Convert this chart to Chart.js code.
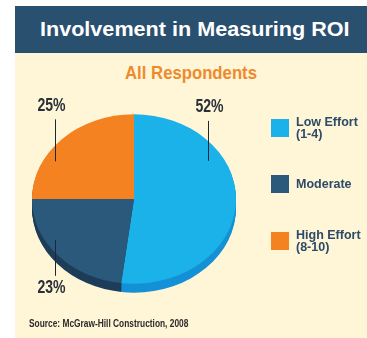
<!DOCTYPE html>
<html lang="en">
<head>
<meta charset="UTF-8">
<title>Involvement in Measuring ROI</title>
<script src="https://cdn.jsdelivr.net/npm/chart.js@4.4.0/dist/chart.umd.min.js"></script>
<style>
    * {
        margin: 0;
        padding: 0;
        box-sizing: border-box;
    }

    body {
        width: 367px;
        height: 338px;
        overflow: hidden;
        position: relative;
        background: #fff;
        font-family: "Liberation Sans", Arial, sans-serif;
    }

    .card {
        position: absolute;
        left: 15px;
        top: 6px;
        right: 0;
        bottom: 0;
        background: #fff6d8;
    }

    .header {
        position: absolute;
        left: 15px;
        top: 6px;
        right: 0;
        height: 47px;
        background: #2a5070;
    }

    .header span {
        position: absolute;
        left: 0;
        right: 0;
        top: 0;
        padding-left: 7px;
        color: #fff;
        font-weight: bold;
        font-size: 20px;
        line-height: 47px;
        text-align: center;
        transform: scaleX(1.08);
    }

    .subtitle {
        position: absolute;
        left: 15px;
        right: 0;
        top: 62px;
        text-align: center;
        color: #ef8a2c;
        font-weight: bold;
        font-size: 19px;
        line-height: 22px;
        transform: scaleX(0.88);
    }

    .chart-box {
        position: absolute;
        left: 0;
        top: 0;
        width: 367px;
        height: 338px;
    }

    .legend-item {
        position: absolute;
        left: 271px;
        display: flex;
        align-items: center;
        height: 18px;
    }

    .swatch {
        width: 18px;
        height: 18px;
        margin-right: 7px;
        flex: none;
    }

    .legend-text {
        color: #2d4a66;
        font-weight: bold;
        font-size: 12.5px;
        line-height: 12px;
    }

    .source {
        position: absolute;
        left: 29px;
        top: 317px;
        color: #2b2b2b;
        font-weight: bold;
        font-size: 11px;
        white-space: nowrap;
        transform-origin: left center;
        transform: scaleX(0.76);
    }
</style>
</head>
<body>
    <div class="card"></div>
    <div class="header"><span>Involvement in Measuring ROI</span></div>
    <div class="subtitle">All Respondents</div>

    <div class="chart-box">
        <canvas id="roiChart"></canvas>
    </div>

    <div id="legend"></div>
    <div class="source">Source: McGraw-Hill Construction, 2008</div>

<script>
    // Survey shares, clockwise from 12 o'clock
    const categories = ['Low Effort (1-4)', 'Moderate', 'High Effort (8-10)'];
    const legendLines = [['Low Effort', '(1-4)'], ['Moderate'], ['High Effort', '(8-10)']];
    const shares = [52, 23, 25];
    const sliceColors = ['#1bb1e9', '#2b597c', '#f58220'];
    const rimColors = ['#1491d6', '#1d3d58', '#c9651a'];

    // vertical squash of the pie face and thickness of its side wall
    const SQUASH = 0.83;
    const DEPTH = 9;

    // where each leader line starts on its slice and how the label sits
    const labelSpots = [
        { angle: -32, r: 0.85, len: -40, dx: 1, gap: -14 },
        { angle: 148, r: 0.91, len: 36, dx: -4, gap: 12 },
        { angle: -150, r: 0.89, len: -42, dx: -4, gap: -14 }
    ];

    const tiltPlugin = {
        id: 'tilt',
        beforeDatasetsDraw(chart) {
            const ctx = chart.ctx;
            const arcs = chart.getDatasetMeta(0).data;
            const cx = arcs[0].x, cy = arcs[0].y;

            // side wall: slices repeated a few px lower in darker shades
            for (let d = DEPTH; d >= 1; d--) {
                ctx.save();
                ctx.translate(cx, cy + d);
                ctx.scale(1, SQUASH);
                arcs.forEach((arc, i) => {
                    ctx.beginPath();
                    ctx.moveTo(0, 0);
                    ctx.arc(0, 0, arc.outerRadius, arc.startAngle, arc.endAngle);
                    ctx.closePath();
                    ctx.fillStyle = rimColors[i];
                    ctx.fill();
                });
                ctx.restore();
            }

            ctx.save();
            ctx.translate(cx, cy);
            ctx.scale(1, SQUASH);
            ctx.translate(-cx, -cy);
        },
        afterDatasetsDraw(chart) {
            const ctx = chart.ctx;
            ctx.restore();

            const arcs = chart.getDatasetMeta(0).data;
            arcs.forEach((arc, i) => {
                const spot = labelSpots[i];
                const a = spot.angle * Math.PI / 180;
                const x = Math.round(arc.x + Math.cos(a) * arc.outerRadius * spot.r) + 0.5;
                const y = arc.y + Math.sin(a) * arc.outerRadius * spot.r * SQUASH;
                const y2 = y + spot.len;

                ctx.save();
                ctx.strokeStyle = '#1c2836';
                ctx.lineWidth = 1;
                ctx.beginPath();
                ctx.moveTo(x, y);
                ctx.lineTo(x, y2);
                ctx.stroke();

                // condensed percentage label
                ctx.translate(x + spot.dx, y2 + spot.gap);
                ctx.scale(0.74, 1);
                ctx.font = 'bold 19px "Liberation Sans", Arial, sans-serif';
                ctx.fillStyle = '#2a3038';
                ctx.textAlign = 'center';
                ctx.textBaseline = 'middle';
                ctx.fillText(shares[i] + '%', 0, 0);
                ctx.restore();
            });
        }
    };

    const roiChart = new Chart(document.getElementById('roiChart'), {
        type: 'pie',
        data: {
            labels: categories,
            datasets: [{
                data: shares,
                backgroundColor: sliceColors,
                borderWidth: 0,
                clip: false
            }]
        },
        options: {
            responsive: true,
            maintainAspectRatio: false,
            animation: false,
            layout: {
                padding: { left: 32, right: 131, top: 97, bottom: 37 }
            },
            plugins: {
                legend: { display: false },
                tooltip: { enabled: false }
            }
        },
        plugins: [tiltPlugin]
    });

    // legend on the right, built from the same series
    const legend = document.getElementById('legend');
    const legendTops = [119, 175, 232];
    categories.forEach((name, i) => {
        const item = document.createElement('div');
        item.className = 'legend-item';
        item.style.top = legendTops[i] + 'px';
        item.innerHTML = '<span class="swatch" style="background:' + sliceColors[i] + '"></span>' +
            '<span class="legend-text">' + legendLines[i].join('<br>') + '</span>';
        legend.appendChild(item);
    });
</script>
</body>
</html>
